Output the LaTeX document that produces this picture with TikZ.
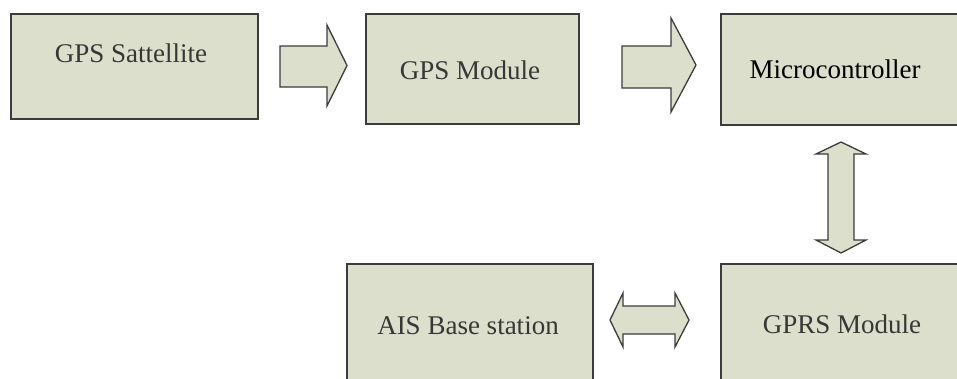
\documentclass[tikz,border=0pt]{standalone}
\usepackage{fontspec}
\setmainfont{Liberation Serif}
\definecolor{boxfill}{RGB}{220,223,203}
\definecolor{boxline}{RGB}{60,60,60}
\definecolor{txtgrey}{RGB}{55,55,55}
\begin{document}
\begin{tikzpicture}[x=1pt,y=-1pt,
  box/.style={draw=boxline,fill=boxfill,line width=1.6pt,inner sep=0pt,anchor=north west},
  lbl/.style={anchor=base,inner sep=0pt,text=txtgrey,font=\fontsize{27}{32}\selectfont},
  blockarrow/.style={draw=boxline,fill=boxfill,line width=1.3pt,line join=miter}]
\useasboundingbox (0,0) rectangle (957,378);
\clip (0,0) rectangle (957,378);
% boxes
\node[box,minimum width=247pt,minimum height=105pt] (sat) at (10,13) {};
\node[box,minimum width=213pt,minimum height=110pt] (gpsm) at (365,13) {};
\node[box,minimum width=260pt,minimum height=111pt] (micro) at (720,13) {};
\node[box,minimum width=246pt,minimum height=140pt] (ais) at (346,263) {};
\node[box,minimum width=260pt,minimum height=140pt] (gprs) at (720,263) {};
% labels
\node[lbl] (tsat) at (131,62) {GPS Sattellite};
\node[lbl] (tgpsm) at (470,79) {GPS Module};
\node[lbl,text=black] (tmicro) at (835,78) {Microcontroller};
\node[lbl] (tais) at (468,334) {AIS Base station};
\node[lbl] (tgprs) at (842,333) {GPRS Module};
% block arrows
\path[blockarrow] (280,46) -- (327,46) -- (327,25) -- (347,65.5) -- (327,106) -- (327,87) -- (280,87) -- cycle;
\path[blockarrow] (622,46) -- (671,46) -- (671,18) -- (696,65) -- (671,112) -- (671,88) -- (622,88) -- cycle;
\path[blockarrow] (841,142) -- (866,154) -- (854,154) -- (854,240) -- (866,240) -- (841,253) -- (816,240) -- (828,240) -- (828,154) -- (816,154) -- cycle;
\path[blockarrow] (610,320) -- (623,293) -- (623,306) -- (675,306) -- (675,293) -- (689,320) -- (675,347) -- (675,334) -- (623,334) -- (623,347) -- cycle;
\end{tikzpicture}
\end{document}
